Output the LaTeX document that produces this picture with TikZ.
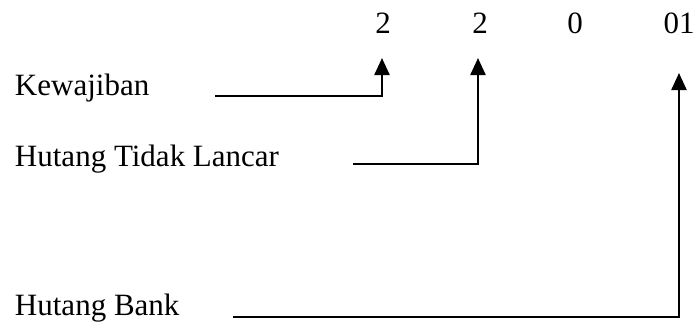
\documentclass[tikz,border=0pt]{standalone}
\usepackage{fontspec}
\setmainfont{Liberation Serif}
\usetikzlibrary{arrows.meta}
\begin{document}
\begin{tikzpicture}[x=1pt,y=-1pt,
  every node/.style={inner sep=0pt,outer sep=0pt,font=\fontsize{31}{36}\selectfont},
  label/.style={anchor=base west},
  digit/.style={anchor=base},
  conn/.style={line width=2.3pt,-{Triangle[length=17pt,width=15pt]}}]
\useasboundingbox (0,0) rectangle (697,322);
% code digits
\node[digit] (d1) at (383,33) {2};
\node[digit] (d2) at (480,33) {2};
\node[digit] (d3) at (575,33) {0};
\node[digit] (d4) at (679,33) {01};
% account names
\node[label] (kw) at (15,95) {Kewajiban};
\node[label] (htl) at (15,166) {Hutang Tidak Lancar};
\node[label] (hb) at (15,315) {Hutang Bank};
% line starts and arrow tips
\coordinate (s1) at (215,96);
\coordinate (t1) at (382,58);
\coordinate (s2) at (353,164);
\coordinate (t2) at (478,58);
\coordinate (s3) at (233,317);
\coordinate (t3) at (679,73);
\draw[conn] (s1) -| (t1);
\draw[conn] (s2) -| (t2);
\draw[conn] (s3) -| (t3);
\end{tikzpicture}
\end{document}
